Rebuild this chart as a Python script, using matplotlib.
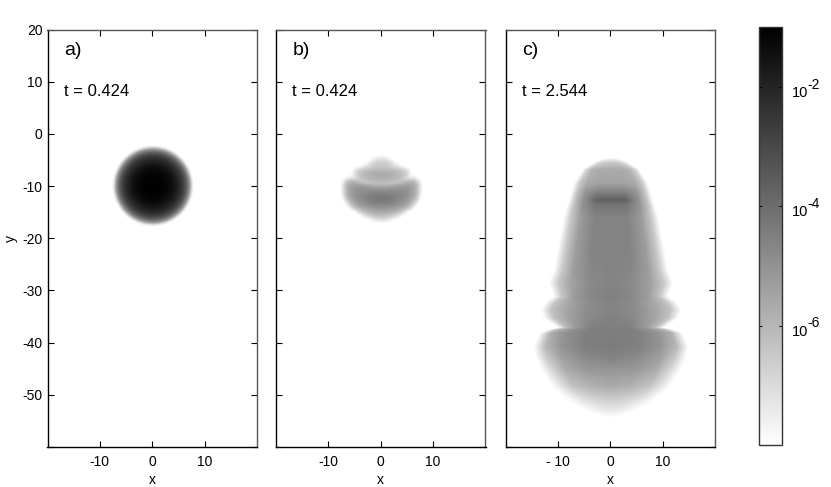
import numpy as np
import matplotlib
matplotlib.use("Agg")
import matplotlib.pyplot as plt
from matplotlib.colors import LogNorm
from matplotlib.ticker import NullLocator

plt.rcParams['font.family'] = ['Liberation Sans', 'DejaVu Sans']

W, H = 831, 487

panel_labels = ["a)", "b)", "c)"]
panel_times = ["t = 0.424", "t = 0.424", "t = 2.544"]
x_ticks = [-10, 0, 10]
y_ticks = [-60, -50, -40, -30, -20, -10, 0, 10, 20]
y_ticklabels = ["", "-50", "-40", "-30", "-20", "-10", "0", "10", "20"]
x_ticklabels = [["-10", "0", "10"], ["-10", "0", "10"], ["- 10", "0", "10"]]
cbar_ticks = [-2, -4, -6]

# panel a: log10 density against distance from the disc centre
a_center_y = -10.0
a_r = [0.0, 2.0, 3.0, 4.0, 5.0, 5.7, 6.4, 7.0, 7.5, 7.8]
a_log = [-1.02, -1.1, -1.25, -1.55, -2.1, -2.65, -3.6, -5.1, -7.3, -8.0]

# panel b: log10 density read on a coarse grid, right half only
b_x = [0.0, 0.75, 1.5, 2.25, 3.0, 3.75, 4.5, 5.25, 6.0, 6.75, 7.5]
b_y = [-4.5, -5.25, -6.0, -6.75, -7.5, -8.25, -9.0, -9.75, -10.5, -11.25,
       -12.0, -12.75, -13.5, -14.25, -15.0, -15.75, -16.5, -17.25]
b_log = [
    [-7.9, -8.0, -8.0, -8.0, -8.0, -8.0, -8.0, -8.0, -8.0, -8.0, -8.0],
    [-7.0, -7.0, -7.7, -8.0, -8.0, -8.0, -8.0, -8.0, -8.0, -8.0, -8.0],
    [-6.4, -6.4, -6.6, -7.4, -8.0, -8.0, -8.0, -8.0, -8.0, -8.0, -8.0],
    [-6.5, -6.5, -6.5, -6.7, -6.9, -7.6, -8.0, -8.0, -8.0, -8.0, -8.0],
    [-5.7, -5.7, -5.75, -5.9, -6.0, -6.2, -6.6, -8.0, -8.0, -8.0, -8.0],
    [-5.7, -5.7, -5.8, -5.9, -6.0, -6.2, -6.7, -7.8, -8.0, -8.0, -8.0],
    [-6.0, -6.0, -6.1, -6.2, -6.4, -6.7, -7.0, -7.1, -6.9, -7.6, -8.0],
    [-6.6, -6.7, -6.8, -6.8, -6.6, -6.1, -5.7, -5.5, -5.6, -6.8, -8.0],
    [-5.4, -5.4, -5.3, -5.2, -5.1, -5.0, -5.0, -5.2, -5.5, -6.8, -8.0],
    [-4.7, -4.7, -4.7, -4.75, -4.8, -4.85, -4.9, -5.1, -5.5, -6.9, -8.0],
    [-4.3, -4.3, -4.35, -4.45, -4.6, -4.75, -4.9, -5.2, -5.7, -7.2, -8.0],
    [-4.3, -4.3, -4.4, -4.5, -4.7, -4.9, -5.1, -5.5, -6.4, -7.9, -8.0],
    [-4.7, -4.7, -4.8, -4.9, -5.05, -5.2, -5.5, -6.2, -7.8, -8.0, -8.0],
    [-5.2, -5.2, -5.3, -5.4, -5.6, -6.0, -7.0, -8.0, -8.0, -8.0, -8.0],
    [-5.8, -5.8, -5.9, -6.1, -6.6, -7.6, -8.0, -8.0, -8.0, -8.0, -8.0],
    [-6.5, -6.5, -7.0, -7.5, -8.0, -8.0, -8.0, -8.0, -8.0, -8.0, -8.0],
    [-7.8, -7.8, -7.9, -8.0, -8.0, -8.0, -8.0, -8.0, -8.0, -8.0, -8.0],
    [-8.0, -8.0, -8.0, -8.0, -8.0, -8.0, -8.0, -8.0, -8.0, -8.0, -8.0],
]

# panel c: for each row the half width of the cloud and log10 density
# at 0, 35, 65 and 85 % of that width (the rim itself is -8)
c_fracs = [0.0, 0.35, 0.65, 0.85, 1.0]
c_y = [-4.6, -5.0, -5.6, -6.9, -9.4, -11.3, -12.7, -13.6, -15.9, -22.2, -26.1,
       -28.6, -31.2, -32.4, -33.7, -35.3, -36.6, -37.2, -37.5, -38.2, -40.8,
       -42.9, -45.2, -48.5, -51.5, -53.4, -54.4]
c_w = [0.5, 2.2, 3.4, 5.4, 7.0, 7.6, 8.0, 8.3, 9.0, 10.2, 10.9,
       11.9, 10.9, 12.6, 13.4, 12.8, 11.0, 10.0, 11.8, 13.6, 14.8,
       14.4, 13.4, 11.3, 8.0, 4.5, 0.5]
c_v0 = [-8.0, -7.3, -6.4, -5.7, -5.5, -4.5, -3.6, -4.2, -4.6, -4.6, -4.6,
        -4.6, -4.5, -4.6, -4.6, -4.5, -4.5, -4.5, -4.5, -4.5, -4.4,
        -4.6, -5.1, -5.7, -6.8, -7.5, -8.0]
c_v35 = [-8.0, -7.4, -6.5, -5.7, -5.5, -4.5, -3.7, -4.2, -4.6, -4.6, -4.7,
         -4.8, -4.7, -4.85, -4.85, -4.8, -4.6, -4.5, -4.5, -4.5, -4.5,
         -4.8, -5.2, -5.9, -7.0, -7.6, -8.0]
c_v65 = [-8.0, -7.6, -6.8, -5.9, -5.7, -5.1, -5.0, -5.0, -5.3, -5.3, -5.3,
         -5.5, -5.3, -5.6, -5.6, -5.5, -5.3, -5.2, -5.1, -5.0, -5.1,
         -5.4, -5.7, -6.4, -7.4, -7.8, -8.0]
c_v85 = [-8.0, -7.9, -7.4, -6.7, -6.5, -6.3, -6.3, -6.3, -6.5, -6.5, -6.5,
         -6.5, -6.4, -6.4, -6.3, -6.3, -6.3, -6.2, -6.0, -5.8, -6.1,
         -6.5, -6.9, -7.3, -7.8, -7.95, -8.0]


def px_axes(fig, left, right, top, bottom):
    return fig.add_axes([left / W, 1 - bottom / H, (right - left) / W, (bottom - top) / H])


def field_a():
    xs = np.linspace(-20, 20, 401)
    ys = np.linspace(-60, 20, 801)
    xx, yy = np.meshgrid(xs, ys)
    return np.interp(np.hypot(xx, yy - a_center_y), a_r, a_log, right=-8.0)


def field_b():
    # rows in b_log run from top to bottom, imshow wants them bottom up
    half = np.flipud(np.array(b_log))
    full = np.hstack([half[:, :0:-1], half])
    xs = np.array(b_x)
    return full, (-xs[-1] - 0.375, xs[-1] + 0.375, b_y[-1] - 0.375, b_y[0] + 0.375)


def field_c():
    xs = np.linspace(-20, 20, 401)
    ys = np.linspace(-60, 20, 801)
    rows = np.full((len(ys), len(xs)), -8.0)
    y_up = np.array(c_y)[::-1]
    for i, y in enumerate(ys):
        if y < y_up[0] or y > y_up[-1]:
            continue
        w = np.interp(y, y_up, c_w[::-1])
        vals = [np.interp(y, y_up, v[::-1]) for v in (c_v0, c_v35, c_v65, c_v85)] + [-8.0]
        rows[i] = np.interp(np.abs(xs) / w, c_fracs, vals, right=-8.0)
    return rows


fig = plt.figure(figsize=(W / 100, H / 100), dpi=100)
norm = LogNorm(1e-8, 1e-1)
lefts = [47.5, 276.0, 505.5]
b_data, b_extent = field_b()
fields = [
    (field_a(), (-20, 20, -60, 20), 'bilinear'),
    (b_data, b_extent, 'bicubic'),
    (field_c(), (-20, 20, -60, 20), 'bilinear'),
]

for i, left in enumerate(lefts):
    ax = px_axes(fig, left, left + 209.5, 29.5, 447)
    data, extent, interp = fields[i]
    im = ax.imshow(10.0 ** data, origin='lower', extent=extent, cmap='gray_r', norm=norm,
                   aspect='auto', interpolation=interp)
    ax.set_xlim(-20, 20)
    ax.set_ylim(-60, 20)
    ax.set_xticks(x_ticks)
    ax.set_xticklabels(x_ticklabels[i])
    ax.set_yticks(y_ticks)
    ax.set_yticklabels(y_ticklabels if i == 0 else [])
    ax.tick_params(direction='in', length=4, width=0.8, top=True, right=True,
                   labelsize=10, pad=5.5, colors='black')
    ax.tick_params(axis='y', pad=3.5)
    ax.set_xlabel("x", fontsize=10, labelpad=3.5)
    if i == 0:
        ax.set_ylabel("y", fontsize=10, labelpad=3)
    for side in ('top', 'right'):
        ax.spines[side].set_color('#555555')
    for spine in ax.spines.values():
        spine.set_linewidth(1.0)
    ax.text(-16.9, 15.9, panel_labels[i], fontsize=14, va='center', ha='left')
    ax.text(-16.9, 8.2, panel_times[i], fontsize=12, va='center', ha='left')

cax = px_axes(fig, 759, 782, 27, 445)
cb = fig.colorbar(im, cax=cax)
cb.set_ticks([10.0 ** t for t in cbar_ticks])
cb.set_ticklabels([])
cax.yaxis.set_minor_locator(NullLocator())
cax.tick_params(which='major', direction='in', length=2.5, width=0.7, left=True, right=True)
cb.outline.set_linewidth(1.0)
cb.outline.set_edgecolor('#333333')
trans = cax.get_yaxis_transform()
for t in cbar_ticks:
    cax.annotate("10", xy=(1, 10.0 ** t), xycoords=trans, xytext=(7.2, -4.3),
                 textcoords='offset points', fontsize=10.5, ha='left', va='center')
    cax.annotate(str(t), xy=(1, 10.0 ** t), xycoords=trans, xytext=(18, 1.5),
                 textcoords='offset points', fontsize=10, ha='left', va='center')

fig.savefig("out.png", dpi=100)
